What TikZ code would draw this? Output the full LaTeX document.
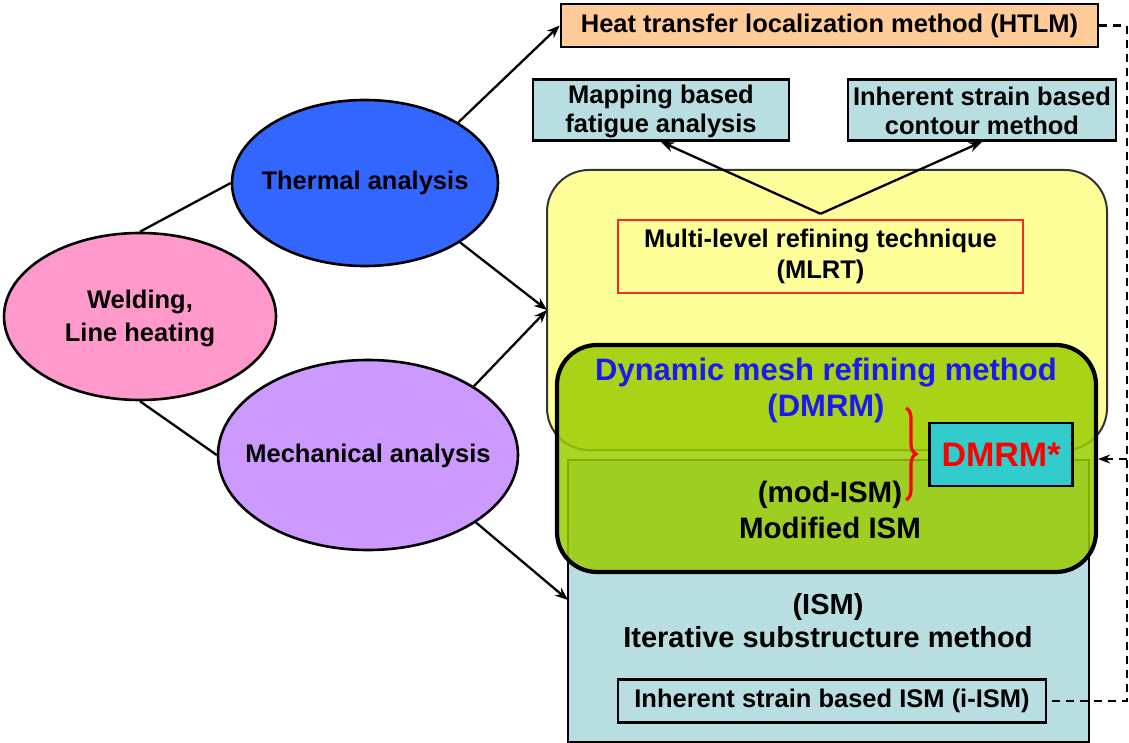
\documentclass[tikz,border=0pt]{standalone}
\usepackage{fontspec}
\setmainfont{Liberation Sans}
\usetikzlibrary{shapes.geometric,arrows.meta,decorations.pathreplacing}
\definecolor{pinkE}{HTML}{FF99CC}
\definecolor{blueE}{HTML}{3366FF}
\definecolor{violetE}{HTML}{CC99FF}
\definecolor{peach}{HTML}{FFCC99}
\definecolor{paleblue}{HTML}{B8DEE2}
\definecolor{paleyellow}{HTML}{FFFF99}
\definecolor{lime}{HTML}{99CC00}
\definecolor{teal2}{HTML}{33CCCC}
\definecolor{titleblue}{HTML}{1A1AF0}
\begin{document}
\begin{tikzpicture}[x=1pt,y=-1pt,
  lbl/.style={font=\bfseries\fontsize{25.5}{31}\selectfont, align=center},
  biglbl/.style={font=\bfseries\fontsize{29}{33}\selectfont, align=center},
  oval/.style={ellipse, draw, line width=2.6pt, inner sep=0pt},
  boxd/.style={draw, line width=2.6pt, inner sep=0pt},
  arr/.style={-{Stealth[length=13pt,width=10pt]}, line width=2.3pt},
  link/.style={line width=2.3pt},
  dashline/.style={dashed, dash pattern=on 8pt off 6pt, line width=2.3pt}]
\useasboundingbox (0,0) rectangle (1129,743);

% left-hand ellipses
\node[oval, fill=pinkE, minimum width=272pt, minimum height=167pt] (weld) at (140,316.5) {};
\node[lbl, font=\bfseries\fontsize{25.5}{33}\selectfont] at (140,318) {Welding,\\Line heating};
\node[oval, fill=blueE, minimum width=266pt, minimum height=166pt] (therm) at (365,183) {};
\node[lbl] at (365,183) {Thermal analysis};
\node[oval, fill=violetE, minimum width=300pt, minimum height=190pt] (mech) at (368,455) {};
\node[lbl] at (368,456) {Mechanical analysis};

% upper boxes
\node[boxd, fill=peach, minimum width=537pt, minimum height=43pt] (htlm) at (829.5,25.5) {};
\node[lbl] at (829.5,25.5) {Heat transfer localization method (HTLM)};
\node[boxd, fill=paleblue, minimum width=256pt, minimum height=61pt] (map) at (661,110) {};
\node[lbl, font=\bfseries\fontsize{25.5}{29}\selectfont] at (661,111) {Mapping based\\fatigue analysis};
\node[boxd, fill=paleblue, minimum width=268pt, minimum height=61pt] (cont) at (982,110) {};
\node[lbl, font=\bfseries\fontsize{25.5}{29}\selectfont] at (982,111) {Inherent strain based\\contour method};

% yellow region with the MLRT box
\draw[fill=paleyellow, line width=2pt, draw=black!80, rounded corners=42pt] (547,170) rectangle (1107,450);
\coordinate (yleft) at (547,310);
\node[draw=red!85, line width=2.4pt, fill=paleyellow, minimum width=405pt, minimum height=73pt, inner sep=0pt] (mlrt) at (820.5,256.5) {};
\node[lbl] at (820.5,256) {Multi-level refining technique\\(MLRT)};

% ISM region
\draw[fill=paleblue, line width=2.6pt] (568,460) rectangle (1089,742);
\coordinate (bleft) at (568,600);
\node[biglbl] at (828,621) {(ISM)\\Iterative substructure method};
\node[boxd, fill=paleblue, minimum width=428pt, minimum height=43pt] (iism) at (832,701) {};
\node[lbl] at (832,701) {Inherent strain based ISM (i-ISM)};

% translucent DMRM region on top
\node[draw, line width=4.2pt, fill=lime, fill opacity=0.85, draw opacity=1, rounded corners=40pt,
      minimum width=539pt, minimum height=227pt, inner sep=0pt] (dmrm) at (826.5,458.5) {};
\node[text=titleblue, font=\bfseries\fontsize{31}{36}\selectfont, align=center] at (826,390) {Dynamic mesh refining method\\(DMRM)};
\node[biglbl, font=\bfseries\fontsize{29.5}{36}\selectfont] at (830,510) {(mod-ISM)\\Modified ISM};
\draw[red, line width=3.2pt, decoration={brace, amplitude=10pt}, decorate]
  (906,408) -- (906,500);
\node[boxd, fill=teal2, minimum width=143pt, minimum height=63pt] (star) at (1001,454.5) {};
\node[text=red, font=\bfseries\fontsize{34}{40}\selectfont] at (1001,455) {DMRM*};

% connectors
\draw[link] (weld.north) -- (therm.west);
\draw[link] (weld.south) -- (mech.west);
\draw[arr] (therm.33) -- (htlm.west);
\draw[arr] (therm.-32) -- (yleft);
\draw[arr] (mech.33) -- (yleft);
\draw[arr] (mech.-32) -- (bleft);
\draw[arr] (mlrt.north) ++(0,-5) coordinate (mtop) -- (map.south);
\draw[arr] (mtop) -- (cont.south);

% dashed feedback lines
\coordinate (c1) at (1127,25.5);
\coordinate (c2) at (1127,701);
\coordinate (c3) at (1127,459);
\draw[dashline] (htlm.east) -- (c1) -- (c2) -- (iism.east);
\draw[dashline, -{Stealth[length=12pt,width=9pt]}] (c3) -- (dmrm.east |- c3);
\end{tikzpicture}
\end{document}
